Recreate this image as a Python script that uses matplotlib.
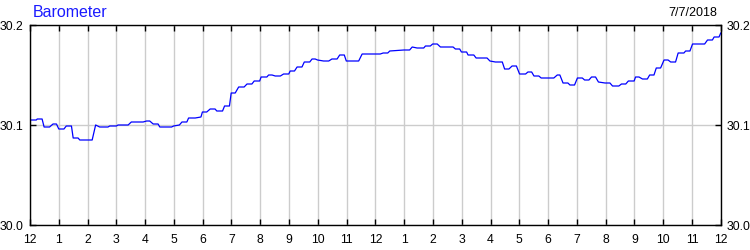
import matplotlib
matplotlib.use("Agg")
import matplotlib.pyplot as plt

plt.rcParams['font.family'] = ['Liberation Sans', 'DejaVu Sans']

# hours since midnight, barometric pressure (inHg)
hours = [0.0, 0.22, 0.25, 0.42, 0.49, 0.68, 0.80, 0.92, 1.0, 1.18, 1.26, 1.44, 1.50, 1.67,
         1.73, 2.16, 2.28, 2.42, 2.71, 2.77, 3.0, 3.06, 3.41, 3.52, 3.93, 4.05, 4.16, 4.28,
         4.45, 4.51, 4.92, 4.99, 5.19, 5.28, 5.45, 5.51, 5.74, 5.94, 5.99, 6.14, 6.26, 6.43,
         6.49, 6.69, 6.76, 6.93, 6.99, 7.13, 7.25, 7.44, 7.54, 7.71, 7.79, 7.98, 8.03, 8.23,
         8.29, 8.41, 8.52, 8.70, 8.81, 8.99, 9.04, 9.19, 9.28, 9.45, 9.53, 9.72, 9.80, 9.91,
         9.99, 10.2, 10.38, 10.49, 10.67, 10.76, 10.92, 10.99, 11.42, 11.54, 12.17, 12.27,
         12.43, 12.50, 12.99, 13.19, 13.28, 13.45, 13.68, 13.74, 13.91, 13.99, 14.15, 14.26,
         14.70, 14.78, 14.93, 14.99, 15.17, 15.22, 15.42, 15.50, 15.71, 15.88, 15.98, 16.17,
         16.41, 16.49, 16.64, 16.75, 16.90, 17.01, 17.22, 17.30, 17.43, 17.51, 17.68, 17.76,
         18.20, 18.32, 18.41, 18.52, 18.69, 18.76, 18.92, 19.02, 19.19, 19.27, 19.42, 19.51,
         19.65, 19.75, 19.98, 20.15, 20.24, 20.46, 20.55, 20.70, 20.79, 20.99, 21.04, 21.16,
         21.28, 21.45, 21.53, 21.68, 21.76, 21.91, 22.03, 22.17, 22.26, 22.43, 22.52, 22.72,
         22.78, 22.93, 23.02, 23.19, 23.28, 23.44, 23.54, 23.71, 23.77, 23.94, 24.0]
pressure = [30.105, 30.105, 30.106, 30.106, 30.098, 30.098, 30.101, 30.101, 30.096, 30.096,
            30.099, 30.099, 30.087, 30.087, 30.085, 30.085, 30.100, 30.098, 30.098, 30.099,
            30.099, 30.100, 30.100, 30.103, 30.103, 30.104, 30.104, 30.101, 30.101, 30.098,
            30.098, 30.099, 30.100, 30.103, 30.103, 30.107, 30.107, 30.108, 30.113, 30.113,
            30.116, 30.116, 30.114, 30.114, 30.119, 30.119, 30.132, 30.132, 30.138, 30.138,
            30.141, 30.141, 30.144, 30.144, 30.148, 30.148, 30.150, 30.150, 30.149, 30.149,
            30.151, 30.151, 30.154, 30.154, 30.158, 30.158, 30.163, 30.163, 30.166, 30.166,
            30.165, 30.164, 30.164, 30.166, 30.166, 30.170, 30.170, 30.164, 30.164, 30.171,
            30.171, 30.172, 30.172, 30.174, 30.175, 30.175, 30.178, 30.177, 30.177, 30.179,
            30.179, 30.181, 30.181, 30.178, 30.178, 30.176, 30.176, 30.173, 30.173, 30.170,
            30.170, 30.167, 30.167, 30.167, 30.164, 30.163, 30.163, 30.156, 30.156, 30.159,
            30.159, 30.151, 30.151, 30.153, 30.153, 30.149, 30.149, 30.147, 30.147, 30.150,
            30.150, 30.142, 30.142, 30.140, 30.140, 30.147, 30.147, 30.145, 30.145, 30.148,
            30.148, 30.143, 30.142, 30.142, 30.139, 30.139, 30.141, 30.141, 30.144, 30.144,
            30.148, 30.148, 30.146, 30.146, 30.150, 30.150, 30.157, 30.157, 30.165, 30.165,
            30.163, 30.163, 30.172, 30.172, 30.174, 30.174, 30.181, 30.181, 30.181, 30.181,
            30.185, 30.185, 30.188, 30.188, 30.192]

hour_labels = ['12'] + [str(h) for h in range(1, 12)] + ['12'] + [str(h) for h in range(1, 12)] + ['12']
y_ticks = [30.0, 30.1, 30.2]

fig = plt.figure(figsize=(7.5, 2.5), dpi=100)
ax = fig.add_axes([0.04, 0.1, 0.921, 0.8])

ax.plot(hours, pressure, color='#0000ff', lw=0.9)

ax.set_xlim(0, 24)
ax.set_ylim(30.0, 30.2)
ax.set_xticks(range(25))
ax.set_xticklabels(hour_labels)
ax.set_yticks(y_ticks)
ax.set_yticklabels(['%.1f' % v for v in y_ticks])
ax.grid(True, color='#cccccc', lw=1.0)
ax.set_axisbelow(True)

ax.tick_params(axis='both', direction='in', length=4, width=1.0, labelsize=8.8,
               top=True, right=True, labelright=True, pad=4.5)
ax.tick_params(axis='x', pad=6.5)
for s in ax.spines.values():
    s.set_linewidth(1.0)

fig.text(0.044, 0.95, 'Barometer', color='#1a1aff', fontsize=11.5, va='center', ha='left')
fig.text(0.956, 0.948, '7/7/2018', color='black', fontsize=9, va='center', ha='right')

fig.savefig('out.png', dpi=100)
